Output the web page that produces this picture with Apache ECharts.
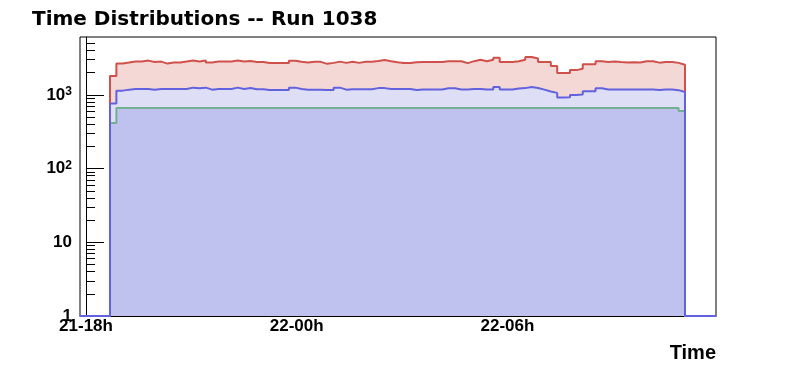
<!DOCTYPE html>
<html><head><meta charset="utf-8">
<script src="https://cdn.jsdelivr.net/npm/echarts@6/dist/echarts.min.js"></script>
<style>html,body{margin:0;padding:0;background:#fff}#c{width:796px;height:372px}</style>
</head><body><div id="c"></div>
<script>
const chartTitle = 'Time Distributions -- Run 1038';
const xTitle = 'Time';
// x values: hours after 21-18h
const xRange = [-0.171, 17.939];
const xMajorTicks = [0, 6, 12];
const xMajorLabels = ['21-18h', '22-00h', '22-06h'];
const xMinorTicks = [2, 4, 8, 10, 14, 16];
const firstBinHour = 0.683;
const binWidthHours = 0.18192;
const yRange = [1, 6105];
const yMajorTicks = [1, 10, 100, 1000];
const yMajorLabels = ['1', '10', '10{sup|2}', '10{sup|3}'];
const yMinorTicks = [2,3,4,5,6,7,8,9,20,30,40,50,60,70,80,90,200,300,400,500,600,700,800,900,2000,3000,4000,5000];

const redCounts = [
  1804,2659,2743,2830,2830,2920,2800,2830,2659,2743,
  2743,2830,2920,2830,2920,2743,2830,2830,2830,2920,
  2830,2886,2796,2796,2713,2713,2713,2713,2916,2825,
  2760,2810,2810,2640,2720,2830,2720,2810,2720,2810,
  2810,2880,2970,2870,2780,2700,2700,2780,2790,2790,
  2790,2790,2870,2870,2860,2700,2870,2990,2870,2990,
  3190,2790,2790,2870,2990,3270,3110,2800,2800,2470,
  1980,1980,2170,2260,2600,2600,2870,2800,2850,2800,
  2760,2780,2760,2870,2870,2740,2800,2800,2720,2570];
const blueCounts = [
  762,1143,1179,1204,1204,1204,1179,1204,1204,1204,
  1204,1204,1255,1230,1255,1179,1204,1204,1204,1255,
  1204,1242,1192,1192,1167,1167,1167,1167,1255,1200,
  1179,1179,1179,1170,1170,1255,1179,1190,1190,1190,
  1190,1236,1236,1200,1200,1200,1200,1165,1185,1185,
  1185,1185,1230,1230,1185,1185,1200,1205,1185,1185,
  1281,1185,1185,1224,1236,1281,1242,1179,1110,1065,
  920,930,995,1010,1119,1119,1230,1185,1185,1185,
  1180,1180,1180,1185,1185,1165,1180,1180,1160,1096];
const greenCounts = [
  416,664,664,664,664,664,664,664,664,664,
  664,664,664,664,664,664,664,664,664,664,
  664,664,664,664,664,664,664,664,664,664,
  664,664,664,664,664,664,664,664,664,664,
  664,664,664,664,664,664,664,664,664,664,
  664,664,664,664,664,664,664,664,664,664,
  664,664,664,664,664,664,664,664,664,664,
  664,664,664,664,664,664,664,664,664,664,
  664,664,664,664,664,664,664,664,664,605];

const RED = '#d0504c', BLUE = '#6262de', GREEN = '#72b091';
const RED_FILL = '#f4d8d6', BLUE_FILL = '#dedef6', GREEN_FILL = '#bfc2ee';

function steps(counts) {
  const pts = [[xRange[0], yRange[0]]];
  counts.forEach((v, i) => pts.push([firstBinHour + i * binWidthHours, Math.max(v, yRange[0])]));
  const end = firstBinHour + counts.length * binWidthHours;
  pts.push([end, yRange[0]]);
  pts.push([xRange[1], yRange[0]]);
  return pts;
}
function nearestLabel(v, ticks, labels) {
  let best = 0;
  for (let i = 1; i < ticks.length; i++) if (Math.abs(ticks[i] - v) < Math.abs(ticks[best] - v)) best = i;
  return labels[best];
}
function nearestLogLabel(v, ticks, labels) {
  let best = 0;
  for (let i = 1; i < ticks.length; i++) if (Math.abs(Math.log10(ticks[i]) - Math.log10(v)) < Math.abs(Math.log10(ticks[best]) - Math.log10(v))) best = i;
  return labels[best];
}

const FONT = 'Liberation Sans';
const labelFont = { fontFamily: FONT, fontWeight: 'bold', fontSize: 17, color: '#000' };
const chart = echarts.init(document.getElementById('c'), null, { renderer: 'canvas' });
chart.setOption({
  animation: false,
  backgroundColor: '#fff',
  title: [
    { text: chartTitle, left: 32, top: 10, padding: 0,
      textStyle: { fontFamily: 'DejaVu Sans', fontWeight: 'bold', fontSize: 20, color: '#000' } },
    { text: xTitle, right: 80, top: 343.5, padding: 0,
      textStyle: { fontFamily: FONT, fontWeight: 'bold', fontSize: 20, color: '#000' } }
  ],
  grid: { left: 80, right: 80, top: 37, bottom: 56, show: true, borderColor: '#000', borderWidth: 1, backgroundColor: 'transparent' },
  xAxis: [
    { type: 'value', min: xRange[0], max: xRange[1], position: 'bottom',
      axisLine: { show: true, lineStyle: { color: '#000', width: 1 } },
      axisTick: { show: true, inside: true, length: 9, customValues: xMajorTicks, lineStyle: { color: '#000', width: 1 } },
      axisLabel: Object.assign({ customValues: xMajorTicks, margin: 2,
        formatter: v => nearestLabel(v, xMajorTicks, xMajorLabels) }, labelFont),
      splitLine: { show: false } },
    { type: 'value', min: xRange[0], max: xRange[1], position: 'bottom',
      axisLine: { show: false },
      axisTick: { show: true, inside: true, length: 5, customValues: xMinorTicks, lineStyle: { color: '#000', width: 1 } },
      axisLabel: { show: false }, splitLine: { show: false } }
  ],
  yAxis: [
    { type: 'log', logBase: 10, min: yRange[0], max: yRange[1], position: 'left',
      axisLine: { show: true, lineStyle: { color: '#000', width: 1 } },
      axisTick: { show: true, inside: true, length: 18, customValues: yMajorTicks, lineStyle: { color: '#000', width: 1 } },
      axisLabel: Object.assign({ customValues: yMajorTicks, margin: 8,
        formatter: v => nearestLogLabel(v, yMajorTicks, yMajorLabels),
        rich: { sup: { fontFamily: FONT, fontWeight: 'bold', fontSize: 12, color: '#000', verticalAlign: 'top', padding: [0, 0, 6, 0] } } }, labelFont),
      splitLine: { show: false } },
    { type: 'log', logBase: 10, min: yRange[0], max: yRange[1], position: 'left',
      axisLine: { show: false },
      axisTick: { show: true, inside: true, length: 9, customValues: yMinorTicks, lineStyle: { color: '#000', width: 1 } },
      axisLabel: { show: false }, splitLine: { show: false } }
  ],
  series: [
    { type: 'line', step: 'end', data: steps(redCounts), symbol: 'none', z: 1,
      lineStyle: { color: RED, width: 2 }, areaStyle: { color: RED_FILL, opacity: 1, origin: 'start' } },
    { type: 'line', step: 'end', data: steps(blueCounts), symbol: 'none', z: 2,
      lineStyle: { width: 0, opacity: 0 }, areaStyle: { color: BLUE_FILL, opacity: 1, origin: 'start' } },
    { type: 'line', step: 'end', data: steps(greenCounts), symbol: 'none', z: 3,
      lineStyle: { color: GREEN, width: 2 }, areaStyle: { color: GREEN_FILL, opacity: 1, origin: 'start' } },
    { type: 'line', step: 'end', data: steps(blueCounts), symbol: 'none', z: 4, clip: false,
      lineStyle: { color: BLUE, width: 2 } }
  ]
});
</script></body></html>
